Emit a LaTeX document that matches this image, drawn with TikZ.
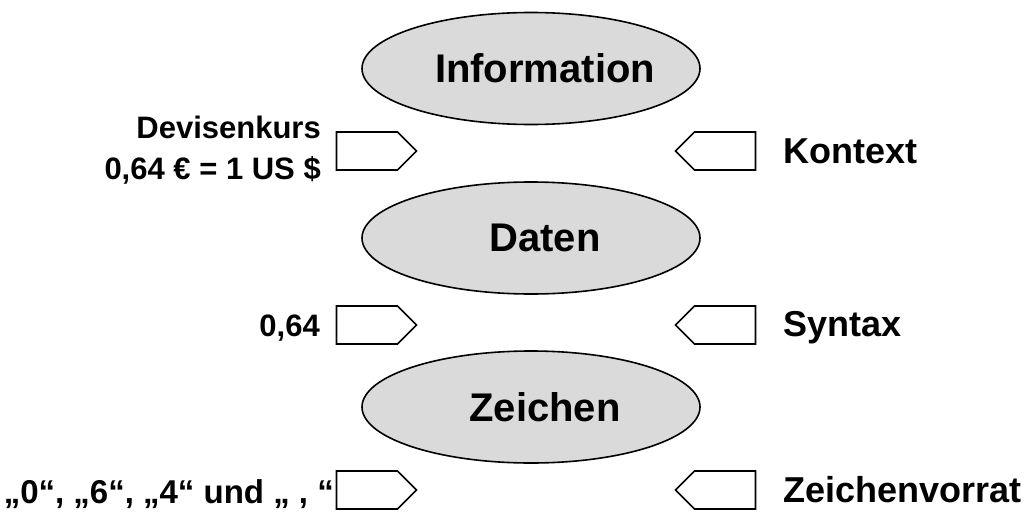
\documentclass[tikz,border=0pt]{standalone}
\usepackage{fontspec}
\setmainfont{Liberation Sans}
\usetikzlibrary{shapes.geometric,shapes.symbols}
\definecolor{levelgray}{RGB}{218,218,218}
\begin{document}
\begin{tikzpicture}[x=1pt,y=-1pt,
  level/.style={ellipse, draw, line width=1.6pt, fill=levelgray,
    minimum width=338pt, minimum height=112pt, inner sep=0pt},
  lvltext/.style={font=\fontsize{40}{48}\selectfont\bfseries, inner sep=0pt,
    xshift=14pt},
  tagbase/.style={signal, draw, line width=1.6pt, fill=white,
    minimum width=80pt, minimum height=38pt, inner sep=0pt},
  tagright/.style={tagbase, signal to=east},
  tagleft/.style={tagbase, signal to=west},
  lbl/.style={font=\fontsize{31}{41}\selectfont\bfseries, inner sep=0pt},
  lblbig/.style={font=\fontsize{36}{42}\selectfont\bfseries, inner sep=0pt}]
\useasboundingbox (0,0) rectangle (1027,511);

% the three levels
\node[level, label={[lvltext]center:Information}] (info)  at (531,68.5) {};
\node[level, label={[lvltext]center:Daten}]       (daten) at (531,238)  {};
\node[level, label={[lvltext]center:Zeichen}]     (zeich) at (531,407)  {};

% tags between the levels
\node[tagright] (tl1) at (367,151) {};
\node[tagright] (tl2) at (367,325) {};
\node[tagright] (tl3) at (367,490) {};
\node[tagleft]  (tr1) at (725,151) {};
\node[tagleft]  (tr2) at (725,325) {};
\node[tagleft]  (tr3) at (725,490) {};

% examples on the left
\node[lbl, anchor=east, align=right] (ex1) at (321,150)
  {Devisenkurs\\0,64 € = 1 US \$};
\node[lbl, anchor=base east] (ex2) at (320,336) {0,64};
\node[lbl, anchor=base east, font=\fontsize{33}{40}\selectfont\bfseries]
  (ex3) at (334,503) {„0“, „6“, „4“ und „ , “};

% what is added on the right
\node[lblbig, anchor=base west] (add1) at (783,163) {Kontext};
\node[lblbig, anchor=base west] (add2) at (783,336) {Syntax};
\node[lblbig, anchor=base west] (add3) at (783,502) {Zeichenvorrat};
\end{tikzpicture}
\end{document}
